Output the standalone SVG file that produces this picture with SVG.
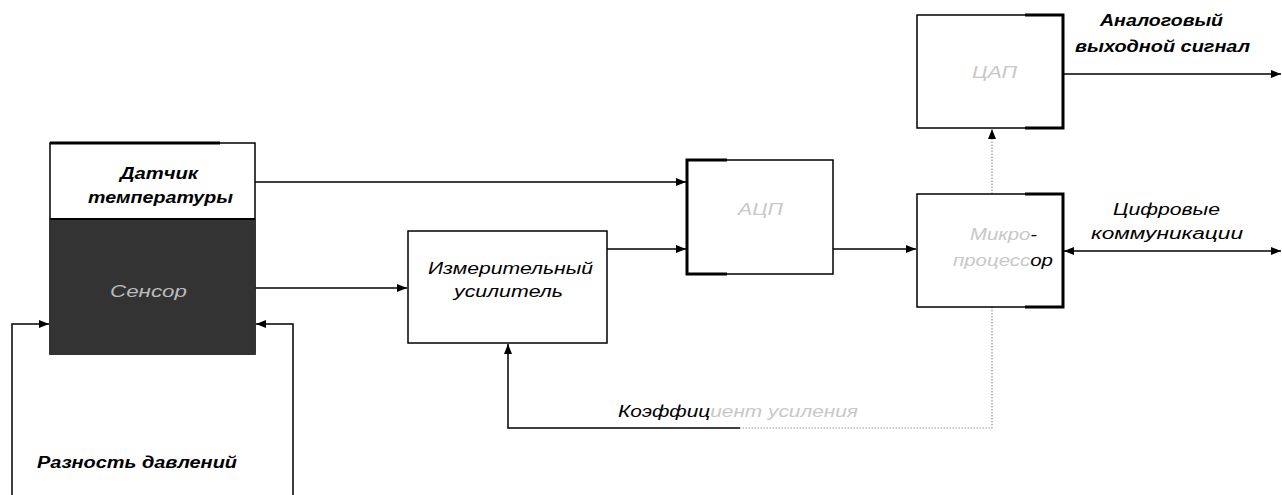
<svg xmlns="http://www.w3.org/2000/svg" width="1282" height="495" viewBox="0 0 1282 495">
  <defs>
    <marker id="arr" viewBox="0 0 10 10" refX="10" refY="5" markerWidth="10" markerHeight="10" markerUnits="userSpaceOnUse" orient="auto-start-reverse">
      <path d="M0,1 L10,5 L0,9 z" fill="#000"/>
    </marker>
  </defs>
  <style>
    .lbl { font-family: "Liberation Sans", Arial, sans-serif; font-style: italic; font-size: 16px; fill: #000; }
    .bold { font-weight: bold; }
    .faint { fill: #c8c8c8; }
    .box { fill: #fff; stroke: #000; stroke-width: 1.5; }
    .thick { stroke: #000; stroke-width: 3; fill: none; }
    .wire { stroke: #000; stroke-width: 1.5; fill: none; }
    .dotted { stroke: #999; stroke-width: 1.2; stroke-dasharray: 1.5 1.5; fill: none; }
  </style>
  <rect width="1282" height="495" fill="#fff"/>

  <!-- connectors -->
  <g id="connectors">
    <!-- temperature sensor to ADC -->
    <line class="wire" x1="255" y1="182" x2="686" y2="182" marker-end="url(#arr)"/>
    <!-- sensor to instrumentation amplifier -->
    <line class="wire" x1="255" y1="288" x2="407" y2="288" marker-end="url(#arr)"/>
    <!-- amplifier to ADC -->
    <line class="wire" x1="607" y1="249" x2="686" y2="249" marker-end="url(#arr)"/>
    <!-- ADC to microprocessor -->
    <line class="wire" x1="833" y1="249" x2="916" y2="249" marker-end="url(#arr)"/>
    <!-- microprocessor to DAC -->
    <line class="dotted" x1="992" y1="194" x2="992" y2="129" marker-end="url(#arr)"/>
    <!-- DAC analog output -->
    <line class="wire" x1="1063" y1="74" x2="1281" y2="74" marker-end="url(#arr)"/>
    <!-- digital communications (bidirectional) -->
    <line class="wire" x1="1064" y1="251" x2="1281" y2="251" stroke-width="2" marker-start="url(#arr)" marker-end="url(#arr)"/>
    <!-- gain feedback -->
    <polyline class="dotted" points="992,307 992,428 740,428"/>
    <polyline class="wire" points="740,428 508,428 508,344" marker-end="url(#arr)"/>
    <!-- pressure difference inputs -->
    <polyline class="wire" points="12,495 12,324 49,324" marker-end="url(#arr)"/>
    <polyline class="wire" points="293,495 293,324 256,324" marker-end="url(#arr)"/>
  </g>

  <!-- sensor with temperature sensor -->
  <g id="sensor">
    <rect x="50" y="143" width="205" height="211" fill="#fff" stroke="#000" stroke-width="1.5"/>
    <rect x="50" y="219" width="205" height="135" fill="#333" stroke="#333" stroke-width="1.5"/>
    <line class="thick" x1="50" y1="143" x2="220" y2="143" stroke-width="2.5"/>
    <line x1="50" y1="219" x2="255" y2="219" stroke="#000" stroke-width="2"/>
    <text class="lbl bold" x="120" y="179" textLength="78" lengthAdjust="spacingAndGlyphs">Датчик</text>
    <text class="lbl bold" x="88" y="203" textLength="145" lengthAdjust="spacingAndGlyphs">температуры</text>
    <text class="lbl" x="110" y="297" textLength="77" lengthAdjust="spacingAndGlyphs" style="fill:#bbb">Сенсор</text>
  </g>

  <!-- instrumentation amplifier -->
  <g id="amplifier">
    <rect class="box" x="408" y="231" width="199" height="112"/>
    <text class="lbl" x="428" y="274" textLength="165" lengthAdjust="spacingAndGlyphs">Измерительный</text>
    <text class="lbl" x="454" y="297" textLength="109" lengthAdjust="spacingAndGlyphs">усилитель</text>
  </g>

  <!-- ADC -->
  <g id="adc">
    <rect class="box" x="687" y="160" width="146" height="114"/>
    <polyline class="thick" points="727,160 687,160 687,274 727,274"/>
    <text class="lbl faint" x="738" y="215" textLength="45" lengthAdjust="spacingAndGlyphs">АЦП</text>
  </g>

  <!-- microprocessor -->
  <g id="micro">
    <rect class="box" x="917" y="194" width="146" height="113"/>
    <polyline class="thick" points="1025,194 1063,194 1063,307 1025,307"/>
    <text class="lbl" x="970" y="240" textLength="67" lengthAdjust="spacingAndGlyphs"><tspan class="faint">Микро</tspan>-</text>
    <text class="lbl" x="953" y="266" textLength="100" lengthAdjust="spacingAndGlyphs"><tspan class="faint">процесс</tspan>ор</text>
  </g>

  <!-- DAC -->
  <g id="dac">
    <rect class="box" x="917" y="15" width="146" height="113"/>
    <polyline class="thick" points="1025,15 1063,15 1063,128 1025,128"/>
    <text class="lbl faint" x="972" y="78" textLength="45" lengthAdjust="spacingAndGlyphs">ЦАП</text>
  </g>

  <!-- labels -->
  <g id="labels">
    <text class="lbl bold" x="1100" y="26" textLength="123" lengthAdjust="spacingAndGlyphs">Аналоговый</text>
    <text class="lbl bold" x="1075" y="52" textLength="175" lengthAdjust="spacingAndGlyphs">выходной сигнал</text>
    <text class="lbl" x="1113" y="215" textLength="107" lengthAdjust="spacingAndGlyphs">Цифровые</text>
    <text class="lbl" x="1091" y="239" textLength="152" lengthAdjust="spacingAndGlyphs">коммуникации</text>
    <text class="lbl" x="618" y="417" textLength="240" lengthAdjust="spacingAndGlyphs">Коэффиц<tspan class="faint">иент усиления</tspan></text>
    <text class="lbl bold" x="37" y="468" textLength="200" lengthAdjust="spacingAndGlyphs">Разность давлений</text>
  </g>
</svg>
